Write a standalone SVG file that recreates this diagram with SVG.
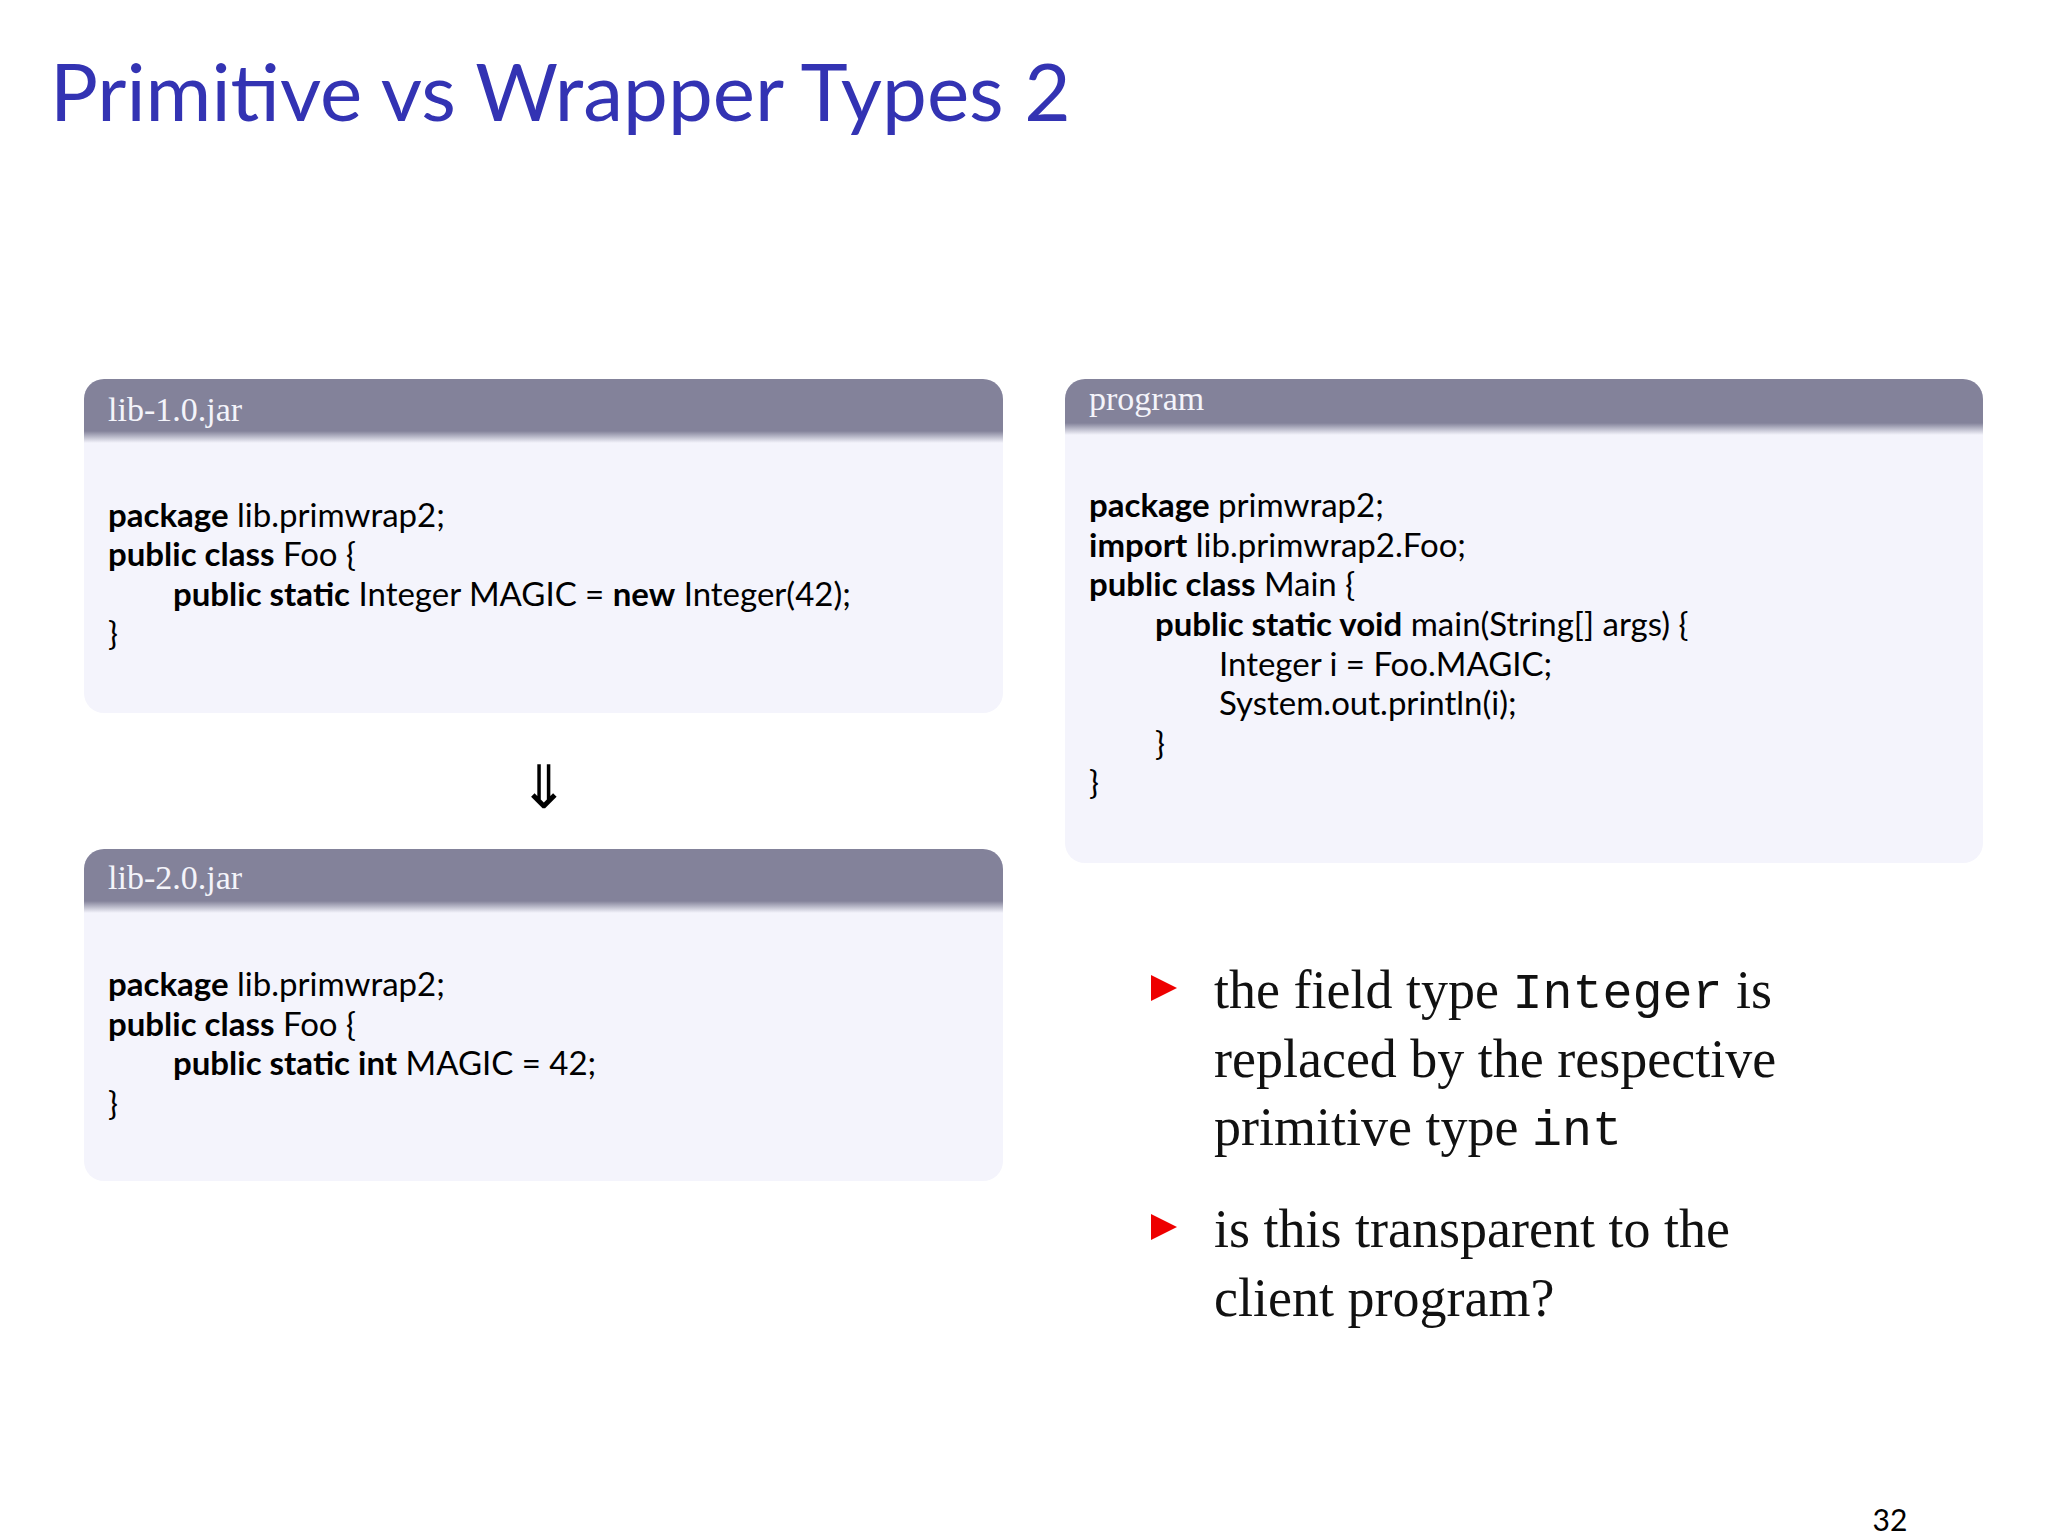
<svg xmlns="http://www.w3.org/2000/svg" width="2048" height="1536" viewBox="0 0 2048 1536">
<style>
.code{font-family:Lato,"DejaVu Sans",sans-serif;font-size:33px;fill:#000}
.b{font-weight:bold}
.hd{font-family:"Liberation Serif",serif;font-size:34px;fill:#f4f4fa}
.bul{font-family:"Liberation Serif",serif;font-size:54px;fill:#111}
.tt{font-family:"Liberation Mono",monospace;font-size:50px}
</style>
<defs>
<linearGradient id="sh" x1="0" y1="0" x2="0" y2="1"><stop offset="0" stop-color="#83829a"/><stop offset="1" stop-color="#f4f4fc"/></linearGradient>
</defs>
<rect width="2048" height="1536" fill="#fff"/>
<text x="50" y="121" font-family="Lato,'DejaVu Sans',sans-serif" font-size="80" fill="#3333b3">Primitive vs Wrapper Types 2</text>

<g id="lib1">
<rect x="84" y="379" width="919" height="334" rx="20" fill="#f4f4fc"/>
<path d="M84,431 V399 a20,20 0 0 1 20,-20 H983 a20,20 0 0 1 20,20 V431 Z" fill="#83829a"/>
<rect x="84" y="431" width="919" height="12" fill="url(#sh)"/>
<text x="108" y="421" class="hd">lib-1.0.jar</text>
<text x="108" y="527" class="code"><tspan class="b">package</tspan> lib.primwrap2;</text>
<text x="108" y="566" class="code"><tspan class="b">public class</tspan> Foo {</text>
<text x="173" y="606" class="code"><tspan class="b">public static</tspan> Integer MAGIC = <tspan class="b">new</tspan> Integer(42);</text>
<text x="108" y="645" class="code">}</text>
</g>

<g id="connectors">
<text x="544" y="808" text-anchor="middle" font-family="'DejaVu Sans',sans-serif" font-size="60">⇓</text>
</g>

<g id="lib2">
<rect x="84" y="849" width="919" height="332" rx="20" fill="#f4f4fc"/>
<path d="M84,901 V869 a20,20 0 0 1 20,-20 H983 a20,20 0 0 1 20,20 V901 Z" fill="#83829a"/>
<rect x="84" y="901" width="919" height="12" fill="url(#sh)"/>
<text x="108" y="889" class="hd">lib-2.0.jar</text>
<text x="108" y="996" class="code"><tspan class="b">package</tspan> lib.primwrap2;</text>
<text x="108" y="1036" class="code"><tspan class="b">public class</tspan> Foo {</text>
<text x="173" y="1075" class="code"><tspan class="b">public static int</tspan> MAGIC = 42;</text>
<text x="108" y="1115" class="code">}</text>
</g>

<g id="program">
<rect x="1065" y="379" width="918" height="484" rx="20" fill="#f4f4fc"/>
<path d="M1065,423 V399 a20,20 0 0 1 20,-20 H1963 a20,20 0 0 1 20,20 V423 Z" fill="#83829a"/>
<rect x="1065" y="423" width="918" height="12" fill="url(#sh)"/>
<text x="1089" y="410" class="hd">program</text>
<text x="1089" y="517" class="code"><tspan class="b">package</tspan> primwrap2;</text>
<text x="1089" y="557" class="code"><tspan class="b">import</tspan> lib.primwrap2.Foo;</text>
<text x="1089" y="596" class="code"><tspan class="b">public class</tspan> Main {</text>
<text x="1155" y="636" class="code"><tspan class="b">public static void</tspan> main(String[] args) {</text>
<text x="1219" y="676" class="code">Integer i = Foo.MAGIC;</text>
<text x="1219" y="715" class="code">System.out.println(i);</text>
<text x="1155" y="755" class="code">}</text>
<text x="1089" y="794" class="code">}</text>
</g>

<g id="bullets">
<polygon points="1151,975 1177,988 1151,1001" fill="#e00"/>
<text x="1214" y="1008" class="bul">the field type <tspan class="tt">Integer</tspan> is</text>
<text x="1214" y="1077" class="bul">replaced by the respective</text>
<text x="1214" y="1145" class="bul">primitive type <tspan class="tt">int</tspan></text>
<polygon points="1151,1214 1177,1227 1151,1240" fill="#e00"/>
<text x="1214" y="1247" class="bul">is this transparent to the</text>
<text x="1214" y="1316" class="bul">client program?</text>
</g>
<text x="1890" y="1531" text-anchor="middle" font-family="Lato,sans-serif" font-size="30">32</text>
</svg>
